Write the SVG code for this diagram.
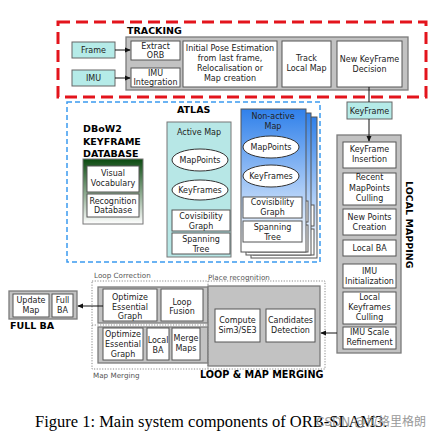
<svg xmlns="http://www.w3.org/2000/svg" width="442" height="435" viewBox="0 0 442 435">
<defs>
<linearGradient id="gBlue" x1="0" y1="0" x2="0" y2="1"><stop offset="0" stop-color="#2f80ea"/><stop offset="0.95" stop-color="#ffffff"/></linearGradient>
<linearGradient id="gGreen" x1="0" y1="0" x2="0" y2="1"><stop offset="0" stop-color="#0b4a10"/><stop offset="1" stop-color="#ffffff"/></linearGradient>
<marker id="arr" viewBox="0 0 8 8" refX="7" refY="4" markerWidth="6" markerHeight="6" orient="auto"><path d="M0,0.5 L8,4 L0,7.5 z" fill="#111"/></marker>
<style>
text{font-family:"DejaVu Sans",sans-serif;font-size:8px;fill:#222;text-anchor:middle}
.t{font-weight:bold;font-size:9.5px;fill:#000;text-anchor:start}
.s{font-size:7.2px;fill:#555;text-anchor:start}
.gray{fill:#c2c2c2;stroke:#7a7a7a;stroke-width:1.3}
.w{fill:#fff;stroke:#555;stroke-width:1}
.cy{fill:#b5ebe8;stroke:#666;stroke-width:1}
.el{fill:#fff;stroke:#333;stroke-width:1}
.dot{fill:none;stroke:#888;stroke-width:1;stroke-dasharray:1.2 1.5}
.cn{stroke:#111;stroke-width:1;fill:none}
</style>
</defs>
<rect width="442" height="435" fill="#fff"/>

<!-- TRACKING -->
<g id="tracking">
<rect x="58" y="22" width="368" height="75" fill="none" stroke="#e3141c" stroke-width="3" stroke-dasharray="12 6"/>
<text class="t" x="127" y="34">TRACKING</text>
<rect class="gray" x="126" y="37" width="282" height="53"/>
</g>
<g id="frame"><rect class="cy" x="72" y="42" width="43" height="16"/><text x="93.5" y="53">Frame</text></g>
<g id="imu"><rect class="cy" x="72" y="70" width="43" height="16"/><text x="93.5" y="81">IMU</text></g>
<g id="extract-orb"><rect class="w" x="131" y="41" width="49" height="19"/><text x="155.5" y="49">Extract</text><text x="155.5" y="58">ORB</text></g>
<g id="imu-integration"><rect class="w" x="131" y="68" width="49" height="19"/><text x="155.5" y="76">IMU</text><text x="155.5" y="85">Integration</text></g>
<g id="initial-pose"><rect class="w" x="183" y="41" width="94" height="46"/><text x="230" y="51">Initial Pose Estimation</text><text x="230" y="61">from last frame,</text><text x="230" y="71">Relocalisation or</text><text x="230" y="81">Map creation</text></g>
<g id="track-local-map"><rect class="w" x="282" y="41" width="49" height="46"/><text x="306.5" y="61">Track</text><text x="306.5" y="71">Local Map</text></g>
<g id="new-kf-decision"><rect class="w" x="337" y="41" width="65" height="46"/><text x="369.5" y="62">New KeyFrame</text><text x="369.5" y="72">Decision</text></g>

<g id="keyframe"><rect class="cy" x="347" y="102" width="45" height="17"/><text x="369.5" y="114">KeyFrame</text></g>

<!-- ATLAS -->
<g id="atlas">
<rect x="67" y="102" width="253" height="160" fill="none" stroke="#3b9af0" stroke-width="1.5" stroke-dasharray="5 3"/>
<text class="t" x="177" y="113">ATLAS</text>
</g>
<g id="dbow2">
<text class="t" x="83" y="132">DBoW2</text><text class="t" x="83" y="145">KEYFRAME</text><text class="t" x="83" y="157">DATABASE</text>
<rect x="83" y="159" width="60" height="65" fill="url(#gGreen)" stroke="#777" stroke-width="1"/>
<rect class="w" x="87" y="166" width="52" height="26"/><text x="113" y="176">Visual</text><text x="113" y="186">Vocabulary</text>
<rect class="w" x="87" y="194" width="52" height="23"/><text x="113" y="204">Recognition</text><text x="113" y="213">Database</text>
</g>
<g id="active-map">
<rect x="167" y="122" width="64" height="135" fill="#b7e7e6" stroke="#777" stroke-width="1"/>
<text x="199" y="135" fill="#333">Active Map</text>
<ellipse class="el" cx="200" cy="160" rx="28" ry="11"/><text x="200" y="163">MapPoints</text>
<ellipse class="el" cx="200" cy="190" rx="28" ry="10"/><text x="200" y="193">KeyFrames</text>
<rect class="w" x="172" y="210" width="58" height="21"/><text x="201" y="219">Covisibility</text><text x="201" y="229">Graph</text>
<rect class="w" x="172" y="233" width="58" height="21"/><text x="201" y="242">Spanning</text><text x="201" y="252">Tree</text>
</g>
<g id="non-active-map">
<rect x="251" y="117" width="66" height="141" fill="url(#gBlue)" stroke="#555" stroke-width="1"/>
<rect class="w" x="253" y="205" width="61" height="21"/><rect class="w" x="253" y="229" width="61" height="26"/>
<rect x="246" y="113" width="65" height="142" fill="url(#gBlue)" stroke="#555" stroke-width="1"/>
<rect class="w" x="248" y="201" width="60" height="21"/><rect class="w" x="248" y="225" width="60" height="27"/>
<rect x="241" y="109" width="65" height="143" fill="url(#gBlue)" stroke="#555" stroke-width="1"/>
<text x="273" y="119" fill="#1a2a55">Non-active</text><text x="273" y="129" fill="#1a2a55">Map</text>
<ellipse class="el" cx="271" cy="147" rx="28" ry="11"/><text x="271" y="150">MapPoints</text>
<ellipse class="el" cx="271" cy="176" rx="28" ry="11"/><text x="271" y="179">KeyFrames</text>
<rect class="w" x="243" y="197" width="59" height="21"/><text x="272.5" y="205">Covisibility</text><text x="272.5" y="215">Graph</text>
<rect class="w" x="243" y="221" width="59" height="21"/><text x="272.5" y="230">Spanning</text><text x="272.5" y="240">Tree</text>
</g>

<!-- LOCAL MAPPING -->
<g id="local-mapping">
<rect class="gray" x="337" y="135" width="64" height="218"/>
<text class="t" transform="translate(406,181) rotate(90)">LOCAL MAPPING</text>
<rect class="w" x="343" y="142" width="53" height="26"/><text x="369.5" y="152">KeyFrame</text><text x="369.5" y="162">Insertion</text>
<rect class="w" x="343" y="173" width="53" height="32"/><text x="369.5" y="180">Recent</text><text x="369.5" y="191">MapPoints</text><text x="369.5" y="201">Culling</text>
<rect class="w" x="343" y="209" width="53" height="26"/><text x="369.5" y="220">New Points</text><text x="369.5" y="230">Creation</text>
<rect class="w" x="343" y="240" width="53" height="16"/><text x="369.5" y="251">Local BA</text>
<rect class="w" x="343" y="264" width="53" height="24"/><text x="369.5" y="274">IMU</text><text x="369.5" y="284">Initialization</text>
<rect class="w" x="343" y="292" width="53" height="32"/><text x="369.5" y="300">Local</text><text x="369.5" y="310">Keyframes</text><text x="369.5" y="320">Culling</text>
<rect class="w" x="343" y="327" width="53" height="22"/><text x="369.5" y="335">IMU Scale</text><text x="369.5" y="345">Refinement</text>
</g>

<!-- LOOP & MAP MERGING -->
<g id="loop-map-merging">
<rect class="gray" x="98" y="287" width="110" height="36"/>
<rect class="gray" x="98" y="327" width="110" height="36"/>
<rect class="gray" x="208" y="286" width="112" height="80"/>
<rect class="dot" x="92" y="281" width="233" height="88"/>
<line class="dot" x1="208" y1="281" x2="208" y2="369"/>
<line class="dot" x1="92" y1="325" x2="208" y2="325"/>
<text class="s" x="94" y="278">Loop Correction</text>
<text class="s" x="208" y="280">Place recognition</text>
<text class="s" x="93" y="378">Map Merging</text>
<text class="t" x="200" y="378" style="font-size:9.7px">LOOP &amp; MAP MERGING</text>
</g>
<g id="lc-optimize"><rect class="w" x="103" y="289" width="54" height="32"/><text x="130" y="300">Optimize</text><text x="130" y="310">Essential</text><text x="130" y="319">Graph</text></g>
<g id="loop-fusion"><rect class="w" x="161" y="289" width="42" height="32"/><text x="182" y="305">Loop</text><text x="182" y="314">Fusion</text></g>
<g id="mm-optimize"><rect class="w" x="103" y="328" width="40" height="32"/><text x="123" y="337">Optimize</text><text x="123" y="347">Essential</text><text x="123" y="357">Graph</text></g>
<g id="mm-local-ba"><rect class="w" x="147" y="328" width="22" height="32"/><text x="158" y="343">Local</text><text x="158" y="353">BA</text></g>
<g id="merge-maps"><rect class="w" x="172" y="328" width="28" height="32"/><text x="186" y="341">Merge</text><text x="186" y="351">Maps</text></g>
<g id="compute-sim3"><rect class="w" x="215" y="309" width="45" height="33"/><text x="237.5" y="323">Compute</text><text x="237.5" y="333">Sim3/SE3</text></g>
<g id="candidates"><rect class="w" x="266" y="309" width="49" height="33"/><text x="290.5" y="323">Candidates</text><text x="290.5" y="333">Detection</text></g>

<!-- FULL BA -->
<g id="full-ba">
<rect class="gray" x="9" y="291" width="68" height="28"/>
<rect class="w" x="13" y="294" width="36" height="23"/><text x="31" y="303">Update</text><text x="31" y="313">Map</text>
<rect class="w" x="52" y="294" width="21" height="23"/><text x="62.5" y="303">Full</text><text x="62.5" y="313">BA</text>
<text class="t" x="10" y="329">FULL BA</text>
</g>

<!-- connectors -->
<g id="connectors">
<line class="cn" x1="115" y1="50" x2="130" y2="50" marker-end="url(#arr)"/>
<line class="cn" x1="115" y1="78" x2="130" y2="78" marker-end="url(#arr)"/>
<line class="cn" x1="369" y1="87" x2="369" y2="102"/>
<line class="cn" x1="369" y1="119" x2="369" y2="141" marker-end="url(#arr)"/>
<line class="cn" x1="337" y1="333" x2="321" y2="333" marker-end="url(#arr)"/>
<line class="cn" x1="103" y1="306" x2="78" y2="306" marker-end="url(#arr)"/>
</g>

<text x="35" y="427" style="font-family:'Liberation Serif',serif;font-size:16.5px;fill:#000;text-anchor:start">Figure 1: Main system components of ORB-SLAM3.</text>
<text x="316" y="426" style="font-family:'DejaVu Sans','Noto Sans CJK SC',sans-serif;font-size:12px;fill:#9a9a9a;text-anchor:start">CSDN @拉格里格朗</text>
</svg>
